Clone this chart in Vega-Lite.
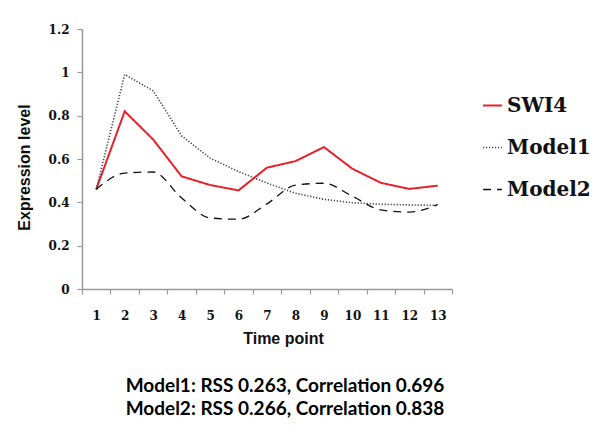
{
  "$schema": "https://vega.github.io/schema/vega-lite/v6.json",
  "width": 370,
  "height": 260,
  "autosize": {"type": "none"},
  "padding": {"left": 82, "top": 29, "right": 156, "bottom": 152},
  "background": "white",
  "data": {
    "values": [
      {"t": 1, "series": "SWI4", "v": 0.46},
      {"t": 2, "series": "SWI4", "v": 0.82},
      {"t": 3, "series": "SWI4", "v": 0.69},
      {"t": 4, "series": "SWI4", "v": 0.52},
      {"t": 5, "series": "SWI4", "v": 0.48},
      {"t": 6, "series": "SWI4", "v": 0.455},
      {"t": 7, "series": "SWI4", "v": 0.56},
      {"t": 8, "series": "SWI4", "v": 0.59},
      {"t": 9, "series": "SWI4", "v": 0.655},
      {"t": 10, "series": "SWI4", "v": 0.555},
      {"t": 11, "series": "SWI4", "v": 0.49},
      {"t": 12, "series": "SWI4", "v": 0.462},
      {"t": 13, "series": "SWI4", "v": 0.477},
      {"t": 1, "series": "Model1", "v": 0.46},
      {"t": 2, "series": "Model1", "v": 0.99},
      {"t": 3, "series": "Model1", "v": 0.915},
      {"t": 4, "series": "Model1", "v": 0.707},
      {"t": 5, "series": "Model1", "v": 0.604},
      {"t": 6, "series": "Model1", "v": 0.542},
      {"t": 7, "series": "Model1", "v": 0.489},
      {"t": 8, "series": "Model1", "v": 0.442},
      {"t": 9, "series": "Model1", "v": 0.414},
      {"t": 10, "series": "Model1", "v": 0.398},
      {"t": 11, "series": "Model1", "v": 0.391},
      {"t": 12, "series": "Model1", "v": 0.388},
      {"t": 13, "series": "Model1", "v": 0.386},
      {"t": 1, "series": "Model2", "v": 0.46},
      {"t": 2, "series": "Model2", "v": 0.535},
      {"t": 3, "series": "Model2", "v": 0.54},
      {"t": 4, "series": "Model2", "v": 0.42},
      {"t": 5, "series": "Model2", "v": 0.328},
      {"t": 6, "series": "Model2", "v": 0.322},
      {"t": 7, "series": "Model2", "v": 0.393},
      {"t": 8, "series": "Model2", "v": 0.479},
      {"t": 9, "series": "Model2", "v": 0.488},
      {"t": 10, "series": "Model2", "v": 0.428},
      {"t": 11, "series": "Model2", "v": 0.365},
      {"t": 12, "series": "Model2", "v": 0.355},
      {"t": 13, "series": "Model2", "v": 0.39}
    ]
  },
  "title": {
    "text": ["Model1: RSS 0.263, Correlation 0.696", "Model2: RSS 0.266, Correlation 0.838"],
    "orient": "bottom",
    "anchor": "middle",
    "offset": 31,
    "dx": 18,
    "font": "Lato",
    "fontWeight": "bold",
    "fontSize": 19,
    "lineHeight": 22.5,
    "color": "#000"
  },
  "encoding": {
    "x": {
      "field": "t",
      "type": "quantitative",
      "scale": {"domain": [0.5, 13.5], "nice": false, "zero": false},
      "axis": {
        "title": "Time point",
        "values": [0.5, 1.5, 2.5, 3.5, 4.5, 5.5, 6.5, 7.5, 8.5, 9.5, 10.5, 11.5, 12.5, 13.5],
        "labelExpr": "datum.value < 13 ? toString(datum.value + 0.5) : ''",
        "labelOffset": 14.23,
        "labelFlush": false,
        "labelOverlap": false,
        "labelBound": false,
        "grid": false,
        "tickSize": 5,
        "labelPadding": 16,
        "labelFont": "DejaVu Serif",
        "labelFontWeight": "bold",
        "labelFontSize": 12,
        "labelColor": "#111",
        "domainColor": "#999",
        "domainWidth": 1.5,
        "tickColor": "#999",
        "tickWidth": 1.2,
        "titleFont": "Liberation Sans",
        "titleFontWeight": "bold",
        "titleFontSize": 16,
        "titleColor": "#111",
        "titlePadding": 9,
        "titleX": 201
      }
    },
    "y": {
      "field": "v",
      "type": "quantitative",
      "scale": {"domain": [0, 1.2], "nice": false},
      "axis": {
        "title": "Expression level",
        "values": [0, 0.2, 0.4, 0.6, 0.8, 1, 1.2],
        "format": "~f",
        "grid": false,
        "tickSize": 5,
        "labelPadding": 8,
        "labelFont": "DejaVu Serif",
        "labelFontWeight": "bold",
        "labelFontSize": 12,
        "labelColor": "#111",
        "domainColor": "#999",
        "domainWidth": 1.5,
        "tickColor": "#999",
        "tickWidth": 1.2,
        "titleFont": "Liberation Sans",
        "titleFontWeight": "bold",
        "titleFontSize": 16,
        "titleColor": "#111",
        "titlePadding": 16,
        "titleY": 138
      }
    },
    "color": {
      "field": "series",
      "type": "nominal",
      "scale": {"domain": ["SWI4", "Model1", "Model2"], "range": ["#e8202a", "#444444", "#111111"]},
      "legend": {
        "title": null,
        "orient": "none",
        "legendX": 400,
        "legendY": 66,
        "symbolType": "stroke",
        "symbolSize": 360,
        "labelFont": "DejaVu Serif",
        "labelFontWeight": "bold",
        "labelFontSize": 20,
        "labelColor": "#111",
        "rowPadding": 21,
        "labelOffset": 4
      }
    },
    "strokeDash": {
      "field": "series",
      "type": "nominal",
      "scale": {"domain": ["SWI4", "Model1", "Model2"], "range": [[1, 0], [1.2, 1.8], [8, 6]]}
    },
    "strokeWidth": {
      "field": "series",
      "type": "nominal",
      "scale": {"domain": ["SWI4", "Model1", "Model2"], "range": [2, 1.3, 2.2]}
    }
  },
  "layer": [
    {
      "transform": [{"filter": "datum.series != 'Model2'"}],
      "mark": {"type": "line"}
    },
    {
      "transform": [{"filter": "datum.series == 'Model2'"}],
      "mark": {"type": "line", "interpolate": "monotone"}
    }
  ],
  "config": {"view": {"stroke": null}}
}
